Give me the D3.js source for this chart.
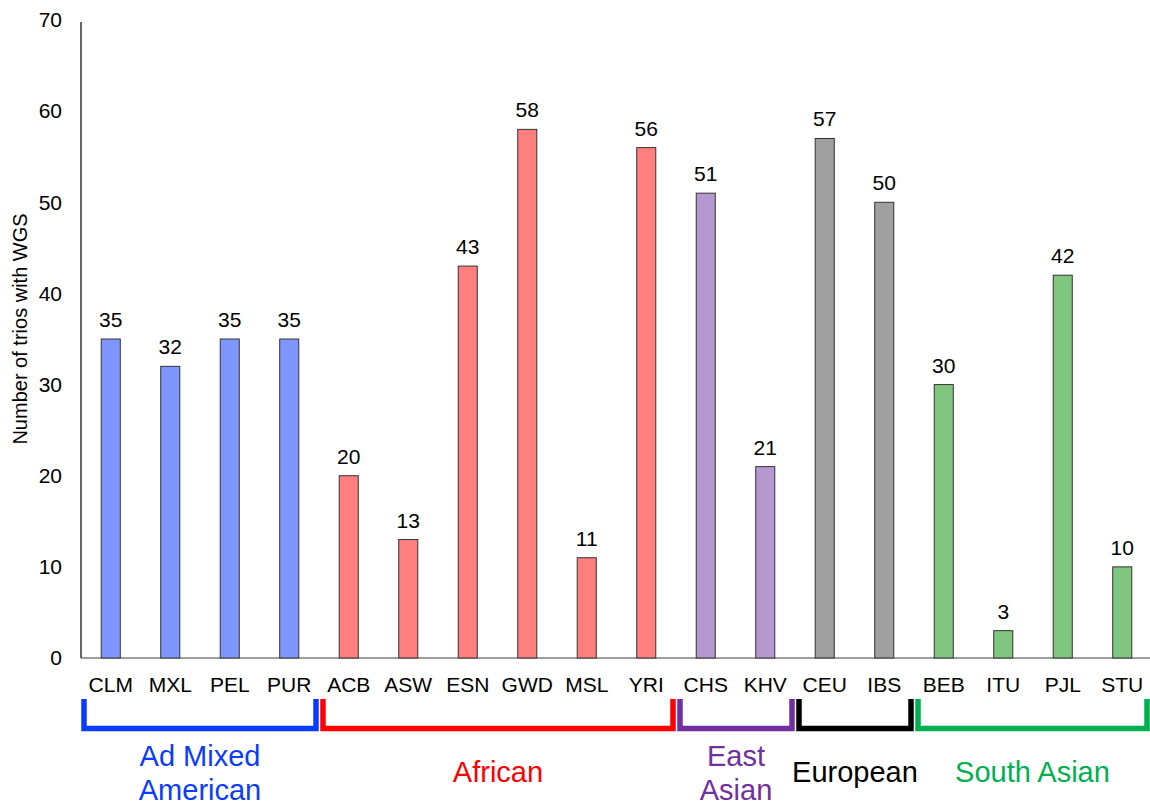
<!DOCTYPE html>
<html>
<head>
<meta charset="utf-8">
<script src="https://cdn.jsdelivr.net/npm/d3@7"></script>
<style>
  html, body { margin: 0; padding: 0; background: #fff; }
  svg { display: block; font-family: "Liberation Sans", Arial, sans-serif; }
</style>
</head>
<body>
<svg id="chart" width="1150" height="805"></svg>
<script>
// Populations and the number of trios with whole-genome sequencing
const populations = ["CLM","MXL","PEL","PUR","ACB","ASW","ESN","GWD","MSL","YRI","CHS","KHV","CEU","IBS","BEB","ITU","PJL","STU"];
const trioCounts  = [35, 32, 35, 35, 20, 13, 43, 58, 11, 56, 51, 21, 57, 50, 30, 3, 42, 10];
const superPops   = ["AMR","AMR","AMR","AMR","AFR","AFR","AFR","AFR","AFR","AFR","EAS","EAS","EUR","EUR","SAS","SAS","SAS","SAS"];

// Super-population groups shown under the axis
const groupKeys   = ["AMR","AFR","EAS","EUR","SAS"];
const groupLabels = [["Ad Mixed","American"],["African"],["East","Asian"],["European"],["South Asian"]];
const yTicks      = [0, 10, 20, 30, 40, 50, 60, 70];

const barFill   = {AMR:"#8096ff", AFR:"#ff7f7f", EAS:"#b698d0", EUR:"#a0a0a0", SAS:"#80c680"};
const groupInk  = {AMR:"#0a3cff", AFR:"#ff0000", EAS:"#7030a0", EUR:"#000000", SAS:"#00b050"};

const svg = d3.select("#chart");
const plotLeft = 81, plotRight = 1152, plotTop = 20, plotBottom = 658;
const fontFamily = "Liberation Sans, Arial, sans-serif";

const x = d3.scaleBand().domain(populations).range([plotLeft, plotRight]).paddingInner(0.68).paddingOuter(0.34);
const y = d3.scaleLinear().domain([0, 70]).range([plotBottom, plotTop]);

// Y axis: line only, no tick marks
const yAxis = svg.append("g").attr("transform", `translate(${plotLeft},0)`)
  .call(d3.axisLeft(y).tickValues(yTicks).tickSize(0).tickPadding(19));
yAxis.select(".domain").attr("stroke", "#000").attr("stroke-width", 1.2)
  .attr("d", `M0,${plotTop + 2}V${plotBottom}`);
yAxis.selectAll("text").attr("font-size", 21).attr("fill", "#000").attr("font-family", fontFamily);

// X axis baseline
svg.append("line").attr("x1", plotLeft).attr("x2", 1150).attr("y1", plotBottom).attr("y2", plotBottom)
  .attr("stroke", "#404040").attr("stroke-width", 1.2);

// Bars
svg.append("g").selectAll("rect").data(populations).join("rect")
  .attr("x", d => x(d))
  .attr("y", (d, i) => y(trioCounts[i]))
  .attr("width", x.bandwidth())
  .attr("height", (d, i) => plotBottom - y(trioCounts[i]))
  .attr("fill", (d, i) => barFill[superPops[i]])
  .attr("stroke", "#333").attr("stroke-width", 1);

// Value labels
svg.append("g").selectAll("text").data(populations).join("text")
  .attr("x", d => x(d) + x.bandwidth() / 2)
  .attr("y", (d, i) => y(trioCounts[i]) - 12)
  .attr("text-anchor", "middle").attr("font-size", 21).attr("fill", "#000")
  .text((d, i) => trioCounts[i]);

// Category labels
const step = x.step();
const gap = step - x.bandwidth();
svg.append("g").selectAll("text").data(populations).join("text")
  .attr("x", d => x(d) + x.bandwidth() / 2)
  .attr("y", 692)
  .attr("text-anchor", "middle").attr("font-size", 21).attr("fill", "#000")
  .text(d => d);

// Group brackets and names
const firstIdx = k => superPops.indexOf(k);
const lastIdx = k => superPops.lastIndexOf(k);
const bracketTop = 699, bracketBot = 728.5;
groupKeys.forEach((k, gi) => {
  const x0 = gi === 0 ? plotLeft + 3 : x(populations[firstIdx(k)]) - gap / 2 + 4;
  const x1 = gi === groupKeys.length - 1 ? 1147 : x(populations[lastIdx(k)]) + x.bandwidth() + gap / 2 - 3;
  svg.append("path")
    .attr("d", `M${x0},${bracketTop}V${bracketBot}H${x1}V${bracketTop}`)
    .attr("fill", "none").attr("stroke", groupInk[k]).attr("stroke-width", 5.5);
  const lines = groupLabels[gi];
  const cx = (x0 + x1) / 2;
  const t = svg.append("text").attr("text-anchor", "middle").attr("font-size", 29).attr("fill", groupInk[k]);
  if (lines.length === 2) {
    t.append("tspan").attr("x", cx).attr("y", 766).text(lines[0]);
    t.append("tspan").attr("x", cx).attr("y", 800).text(lines[1]);
  } else {
    t.append("tspan").attr("x", cx).attr("y", 782).text(lines[0]);
  }
});

// Y axis title
svg.append("text")
  .attr("transform", `translate(27,329) rotate(-90)`)
  .attr("text-anchor", "middle").attr("font-size", 20).attr("fill", "#000")
  .text("Number of trios with WGS");
</script>
</body>
</html>
